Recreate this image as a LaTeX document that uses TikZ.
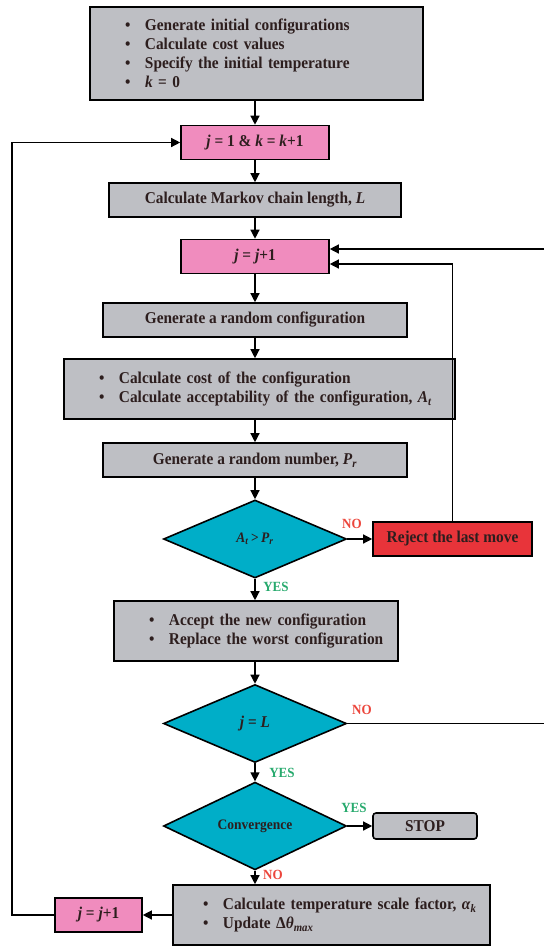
\documentclass[tikz,border=0pt]{standalone}
\usepackage{fontspec}
\setmainfont{Liberation Serif}[FakeStretch=0.93]
\usetikzlibrary{arrows.meta, positioning, calc, shapes}
\usepackage{xcolor}
\definecolor{boxgrey}{RGB}{190,191,196}
\definecolor{boxpink}{RGB}{240,140,190}
\definecolor{boxteal}{RGB}{0,174,200}
\definecolor{boxred}{RGB}{232,52,58}
\definecolor{nored}{RGB}{236,70,60}
\definecolor{yesgreen}{RGB}{40,170,110}
\definecolor{txt}{RGB}{45,30,30}
\newcommand{\itm}{\hspace*{35pt}\makebox[20pt][l]{\textbullet}}

\begin{document}
\begin{tikzpicture}[x=1pt, y=-1pt, >={Triangle[length=9pt,width=9pt]},
  every node/.style={font=\bfseries\fontsize{16.5}{19}\selectfont, text=txt},
  box/.style={draw, line width=1.6pt, fill=boxgrey, minimum height=34pt, inner sep=0pt},
  listbox/.style={box, align=left},
  pinkbox/.style={box, fill=boxpink, minimum width=148pt},
  decision/.style={diamond, draw, line width=1.6pt, fill=boxteal, inner sep=0pt,
    minimum width=183pt, minimum height=78pt},
  flow/.style={->, line width=1.3pt},
  no/.style={text=nored, font=\bfseries\fontsize{14}{15}\selectfont},
  yes/.style={text=yesgreen, font=\bfseries\fontsize{14}{15}\selectfont}]
  \useasboundingbox (0,0) rectangle (544,948);

  % MAIN COLUMN
  \node[listbox, text width=333pt, minimum height=93pt] (init) at (256.5,53.5)
    {\itm Generate initial configurations\\ \itm Calculate cost values\\
     \itm Specify the initial temperature\\ \itm \textit{k} = 0};
  \node[pinkbox] (jk1) at (255,142.5) {\textit{j} = 1 \& \textit{k} = \textit{k}+1};
  \node[box, minimum width=292pt] (markov) at (255,200) {Calculate Markov chain length, \textit{L}};
  \node[pinkbox] (jinc) at (255,256.5) {\textit{j} = \textit{j}+1};
  \node[box, minimum width=304pt] (randcfg) at (255,320) {Generate a random configuration};
  \node[listbox, text width=391pt, minimum height=60pt] (cost) at (259.5,389)
    {\itm Calculate cost of the configuration\\
     \itm Calculate acceptability of the configuration, \textit{A}\textsubscript{\textit{t}}};
  \node[box, minimum width=304pt] (randnum) at (255,460) {Generate a random number, \textit{P}\textsubscript{\textit{r}}};
  \node[decision, font=\bfseries\fontsize{14.5}{16}\selectfont] (test) at (255,539)
    {\textit{A}\textsubscript{\textit{t}}\,>\,\textit{P}\textsubscript{\textit{r}}};
  \node[box, fill=boxred, minimum width=159pt] (reject) at (452.5,539) {Reject the last move};
  \node[listbox, text width=284pt, minimum height=60pt] (accept) at (256,631)
    {\itm Accept the new configuration\\ \itm Replace the worst configuration};
  \node[decision] (jL) at (255,723.5) {\textit{j} = \textit{L}};
  \node[decision, font=\bfseries\fontsize{14.5}{16}\selectfont] (conv) at (255,826) {Convergence};
  \node[box, rounded corners=3pt, minimum width=104pt, minimum height=26pt] (stop) at (425,826) {STOP};

  % BOTTOM ROW
  \node[listbox, text width=317pt, minimum height=60pt] (temp) at (331.5,915)
    {\hspace*{-5pt}\itm Calculate temperature scale factor, \textit{α}\textsubscript{\textit{k}}\\
     \hspace*{-5pt}\itm Update Δ\textit{θ}\textsubscript{\textit{max}}};
  \node[box, fill=boxpink, minimum width=87pt] (jinc2) at (98.5,915) {\textit{j} = \textit{j}+1};

  % LABELS
  \node[no] (no1) at (352,524) {NO};
  \node[yes] (yes1) at (276,587) {YES};
  \node[no] (no2) at (362,710) {NO};
  \node[yes] (yes2) at (282,773) {YES};
  \node[yes] (yes3) at (354,808) {YES};
  \node[no] (no3) at (273,875) {NO};

  % CONNECTORS
  \draw[flow] (jk1 |- init.south) -- (jk1);
  \draw[flow] (jk1) -- (markov);
  \draw[flow] (markov) -- (jinc);
  \draw[flow] (jinc) -- (randcfg);
  \draw[flow] (randcfg) -- (randcfg |- cost.north);
  \draw[flow] (randnum |- cost.south) -- (randnum);
  \draw[flow] (randnum) -- (test);
  \draw[flow] (test) -- (reject);
  \draw[flow] (test) -- (test |- accept.north);
  \draw[flow] (jL |- accept.south) -- (jL);
  \draw[flow] (jL) -- (conv);
  \draw[flow] (conv) -- (stop);
  \draw[flow] (conv) -- (conv |- temp.north);
  \draw[flow] (temp) -- (jinc2);

  % LOOPS BACK
  \coordinate (rtop) at (544,249);
  \coordinate (rbot) at (544,723.5);
  \coordinate (lft) at (12,0);
  \draw[line width=1.3pt] (jL.east) -- (rbot);
  \draw[flow] (rtop) -- (rtop -| jinc.east);
  \draw[flow] (reject.north) |- ($(jinc.east)+(0,7.5)$);
  \draw[flow] (jinc2.west) -- (jinc2.west -| lft) |- (jk1.west);
\end{tikzpicture}
\end{document}
